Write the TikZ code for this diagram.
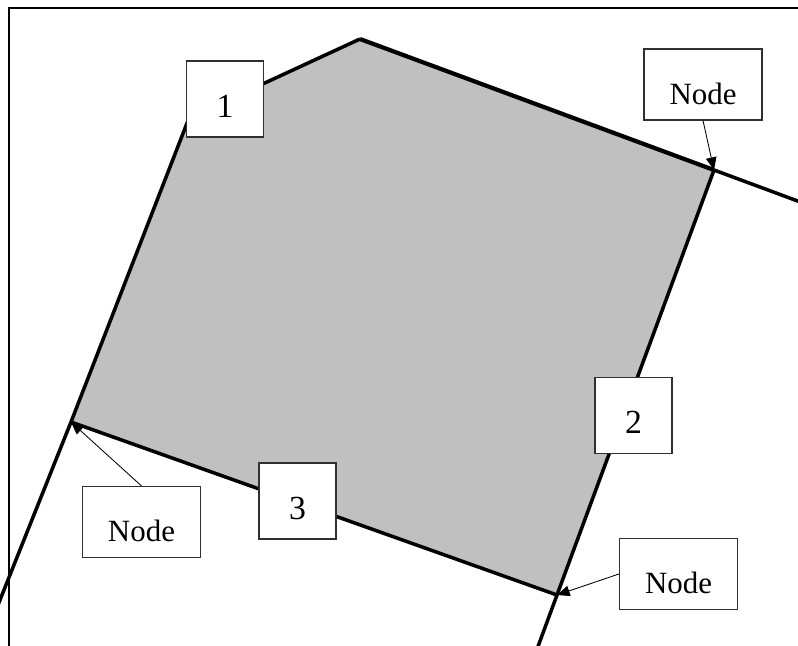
\documentclass[tikz,border=0pt]{standalone}
\usepackage{fontspec}
\setmainfont{Liberation Serif}
\usetikzlibrary{arrows.meta}
\definecolor{cellgray}{HTML}{C0C0C0}
\definecolor{boxgray}{HTML}{303030}

\begin{document}
\begin{tikzpicture}[x=0.025cm, y=-0.025cm, >={Triangle[length=9pt,width=7.5pt]},
  edge/.style={line width=2.5pt, line join=round},
  numbox/.style={draw=boxgray, fill=white, line width=0.8pt, inner sep=0pt,
    minimum width=1.925cm, minimum height=1.9cm, text height=0.9cm, text depth=0pt,
    font=\fontsize{24}{28}\selectfont},
  labelbox/.style={draw=boxgray, fill=white, line width=0.8pt, inner sep=0pt,
    minimum width=2.95cm, minimum height=1.775cm, text height=0.975cm, text depth=0pt,
    font=\fontsize{22}{26}\selectfont},
  pointer/.style={->, line width=0.6pt}]
  \useasboundingbox (0,0) rectangle (798,646);
  \clip (0,0) rectangle (798,646);
  % frame
  \draw[line width=1.2pt] (9,8) rectangle (830,680);
  % cell corners and the far ends of the neighbouring lines
  \coordinate (ctop) at (360,39);
  \coordinate (cul) at (189,118);
  \coordinate (cleft) at (71,422);
  \coordinate (cbot) at (557,595);
  \coordinate (cright) at (714,170);
  \coordinate (topend) at (830,213);
  \coordinate (rightend) at (533,660);
  \coordinate (leftend) at (-16,640);
  % the cell
  \fill[cellgray] (ctop) -- (cright) -- (cbot) -- (cleft) -- (cul) -- cycle;
  \draw[edge] (cright) -- (cbot) -- (cleft) -- (cul) -- (ctop);
  \draw[edge, line width=3pt] (ctop) -- (cright);
  \draw[edge] (cright) -- (topend);
  \draw[edge] (cbot) -- (rightend);
  \draw[edge] (cleft) -- (leftend);
  % numbered boxes
  \node[numbox] (one) at (225,99) {1};
  \node[numbox] (two) at (633.5,415.5) {2};
  \node[numbox] (three) at (297.5,501) {3};
  % node labels
  \node[labelbox] (ntop) at (703,84.5) {Node};
  \node[labelbox] (nleft) at (141.5,522) {Node};
  \node[labelbox] (nbot) at (678.5,574) {Node};
  \draw[pointer] (ntop.south) -- (cright);
  \draw[pointer] (nleft.north) -- (cleft);
  \draw[pointer] (nbot.west) -- (cbot);
\end{tikzpicture}
\end{document}
